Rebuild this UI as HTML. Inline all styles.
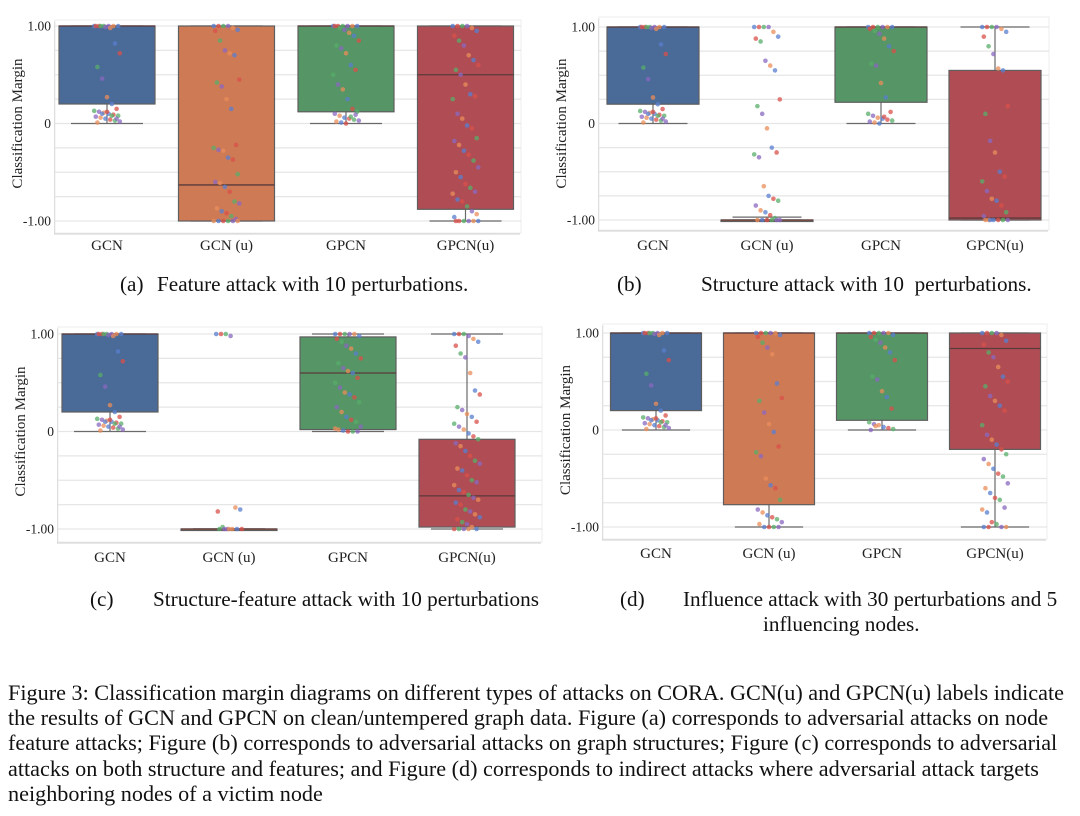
<!DOCTYPE html>
<html><head><meta charset="utf-8">
<style>
html,body{margin:0;padding:0;background:#fff;}
body{width:1080px;height:816px;position:relative;overflow:hidden;font-family:"Liberation Serif",serif;}
svg{position:absolute;left:0;top:0;}
.cap{position:absolute;font-size:21.2px;color:#111;white-space:nowrap;line-height:24px;}
.fl{position:absolute;left:8px;font-size:22.2px;line-height:24px;color:#111;white-space:nowrap;}
</style></head>
<body>
<svg id="chart" width="1080" height="816" xmlns="http://www.w3.org/2000/svg"></svg>
<div class="cap" style="left:120px;top:272px;">(a)</div>
<div class="cap" style="left:157px;top:272px;">Feature attack with 10 perturbations.</div>
<div class="cap" style="left:617px;top:272px;">(b)</div>
<div class="cap" style="left:701px;top:272px;">Structure attack with 10&nbsp; perturbations.</div>
<div class="cap" style="left:90px;top:587px;">(c)</div>
<div class="cap" style="left:153px;top:587px;">Structure-feature attack with 10 perturbations</div>
<div class="cap" style="left:620px;top:587px;">(d)</div>
<div class="cap" style="left:683px;top:587px;">Influence attack with 30 perturbations and 5</div>
<div class="cap" style="left:763px;top:612px;">influencing nodes.</div>
<div>
<div class="fl" style="top:681px;">Figure 3: Classification margin diagrams on different types of attacks on CORA. GCN(u) and GPCN(u) labels indicate</div>
<div class="fl" style="top:706px;">the results of GCN and GPCN on clean/untempered graph data. Figure (a) corresponds to adversarial attacks on node</div>
<div class="fl" style="top:731px;">feature attacks; Figure (b) corresponds to adversarial attacks on graph structures; Figure (c) corresponds to adversarial</div>
<div class="fl" style="top:757px;">attacks on both structure and features; and Figure (d) corresponds to indirect attacks where adversarial attack targets</div>
<div class="fl" style="top:782px;">neighboring nodes of a victim node</div>
</div>
<script>
const categories = ["GCN", "GCN (u)", "GPCN", "GPCN(u)"];
const yTicks = [1, 0, -1];
const yTickLabels = ["1.00", "0", "-1.00"];
// box stats: [whiskerLow, q1, median, q3, whiskerHigh]
const boxesA = [[0,0.2,1,1,1],[-1,-1,-0.63,1,1],[0,0.12,1,1,1],[-1,-0.88,0.5,1,1]];
const boxesB = [[0,0.2,1,1,1],[-1,-1,-1,-1,-0.97],[0,0.22,1,1,1],[-1,-1,-0.98,0.55,1]];
const boxesC = [[0,0.2,1,1,1],[-1,-1,-1,-1,-1],[0,0.02,0.6,0.97,1],[-1,-0.98,-0.66,-0.08,1]];
const boxesD = [[0,0.2,1,1,1],[-1,-0.77,1,1,1],[0,0.1,1,1,1],[-1,-0.2,0.84,1,1]];
const gcnPts = [1,1,1,1,1,1,1,1,0.99,0.98,0.82,0.72,0.58,0.46,0.27,0.2,0.15,0.13,0.12,0.11,0.1,0.09,0.08,0.07,0.06,0.05,0.04,0.03,0.02,0.01,0.1,0.12,0.08,0.05];
const ptsA = [gcnPts,
 [1,1,1,1,0.98,0.96,0.95,0.85,0.75,0.72,0.7,0.45,0.42,0.38,0.25,0.15,-0.22,-0.25,-0.27,-0.28,-0.35,-0.37,-0.52,-0.6,-0.61,-0.65,-0.7,-0.8,-0.82,-0.87,-0.9,-0.92,-0.95,-0.98,-1,-1,-1,-1,-1,-1],
 [1,1,1,1,1,1,1,0.98,0.96,0.93,0.9,0.85,0.8,0.77,0.72,0.6,0.55,0.5,0.4,0.35,0.25,0.15,0.12,0.1,0.08,0.06,0.05,0.04,0.03,0.02,0.01,0,0.07,0.09],
 [1,1,1,1,0.98,0.95,0.9,0.85,0.8,0.7,0.65,0.6,0.55,0.5,0.4,0.3,0.28,0.25,0.1,0.05,-0.02,-0.05,-0.15,-0.18,-0.22,-0.28,-0.32,-0.38,-0.45,-0.5,-0.55,-0.62,-0.66,-0.7,-0.72,-0.78,-0.8,-0.85,-0.9,-0.93,-0.96,-1,-1,-1,-1,-1,-1]];
const ptsB = [gcnPts,
 [1,1,1,1,0.95,0.9,0.88,0.85,0.65,0.6,0.55,0.25,0.18,0.1,-0.05,-0.25,-0.3,-0.32,-0.35,-0.65,-0.75,-0.78,-0.8,-0.85,-0.9,-0.92,-0.95,-0.98,-1,-1,-1,-1,-1,-1],
 [1,1,1,1,1,1,0.98,0.96,0.93,0.88,0.8,0.75,0.62,0.6,0.42,0.27,0.12,0.1,0.08,0.06,0.05,0.04,0.03,0.02,0.01,0,0.07],
 [1,1,1,1,0.98,0.95,0.9,0.8,0.72,0.57,0.55,0.18,0.1,-0.18,-0.3,-0.5,-0.55,-0.6,-0.7,-0.78,-0.8,-0.85,-0.92,-0.96,-1,-1,-1,-1,-1,-1,-1]];
const ptsC = [gcnPts,
 [1,1,1,0.98,-0.78,-0.8,-0.82,-0.98,-1,-1,-1,-1,-1,-1,-1],
 [1,1,1,1,1,0.98,0.95,0.92,0.88,0.85,0.8,0.75,0.7,0.65,0.62,0.6,0.55,0.5,0.45,0.4,0.38,0.35,0.3,0.25,0.2,0.15,0.12,0.1,0.05,0.02,0.01,0,0,0,0.03],
 [1,1,1,0.98,0.95,0.92,0.88,0.8,0.76,0.6,0.42,0.38,0.25,0.22,0.18,0.15,0.1,0.08,0.05,0.02,-0.02,-0.05,-0.08,-0.12,-0.15,-0.2,-0.25,-0.3,-0.33,-0.38,-0.4,-0.45,-0.5,-0.52,-0.55,-0.6,-0.62,-0.65,-0.68,-0.7,-0.73,-0.75,-0.8,-0.82,-0.85,-0.88,-0.9,-0.93,-0.95,-0.98,-1,-1,-1,-1,-1]];
const ptsD = [gcnPts,
 [1,1,1,1,1,0.98,0.96,0.9,0.85,0.78,0.48,0.33,0.3,0.18,0.06,-0.02,-0.17,-0.23,-0.27,-0.5,-0.57,-0.6,-0.72,-0.82,-0.85,-0.88,-0.9,-0.92,-0.95,-0.97,-1,-1,-1,-1],
 [1,1,1,1,1,0.98,0.96,0.93,0.9,0.85,0.8,0.72,0.55,0.52,0.4,0.34,0.22,0.08,0.06,0.05,0.03,0.02,0.01,0,0.04],
 [1,1,1,1,0.98,0.92,0.88,0.8,0.75,0.65,0.55,0.5,0.45,0.35,0.3,0.25,0.2,0.05,-0.05,-0.1,-0.15,-0.2,-0.25,-0.3,-0.35,-0.4,-0.45,-0.48,-0.55,-0.6,-0.65,-0.7,-0.72,-0.8,-0.82,-0.85,-0.95,-0.97,-1,-1,-1,-1]];

const NS = "http://www.w3.org/2000/svg";
const svg = document.getElementById("chart");
const fills = ["#4a6a98","#cd7a55","#559566","#b04d54"];
const dotColors = ["#5a7fcf","#d9504a","#58ad6a","#8a68c0","#e98d5a"];
function mk(tag, attrs, parent){const e=document.createElementNS(NS,tag);for(const k in attrs)e.setAttribute(k,attrs[k]);(parent||svg).appendChild(e);return e;}

const panels = [
 {id:"a", boxes:boxesA, pts:ptsA, fx0:55, fx1:521, fy0:20, fy1:233, yTop:26, yBot:221, cx0:107, step:119.5, bw:96, lab:250},
 {id:"b", boxes:boxesB, pts:ptsB, fx0:599, fx1:1049, fy0:17, fy1:230, yTop:27, yBot:220, cx0:653, step:114, bw:92, lab:250},
 {id:"c", boxes:boxesC, pts:ptsC, fx0:58, fx1:542, fy0:327, fy1:542, yTop:334, yBot:529, cx0:110, step:119, bw:96, lab:562},
 {id:"d", boxes:boxesD, pts:ptsD, fx0:603, fx1:1047, fy0:324, fy1:539, yTop:333, yBot:527, cx0:656, step:113, bw:91, lab:558}
];

panels.forEach(p=>{
  const g = mk("g",{});
  
  
  const y = v => p.yBot + (p.yTop - p.yBot) * (v + 1) / 2;
  const x = i => p.cx0 + i * p.step;
  mk("rect",{x:p.fx0-1,y:p.fy0+1.5,width:p.fx1-p.fx0,height:p.fy1-p.fy0,fill:"#cfcfcf"},g);
  mk("rect",{x:p.fx0,y:p.fy0,width:p.fx1-p.fx0,height:p.fy1-p.fy0,fill:"#fff",stroke:"#ececec"},g);
  for(let v=-1; v<=1.001; v+=0.25){
    const gl = mk("line",{x1:p.fx0,x2:p.fx1,y1:y(v),y2:y(v),stroke:"#e6e6e6","stroke-width":1.2},g);
    
    
  }
  yTicks.forEach((t,i)=>{
    const tx = mk("text",{x:p.fx0-4,y:y(t)+4.5,"text-anchor":"end","font-size":13.5,fill:"#222","font-family":"Liberation Serif, serif"},g);
    tx.textContent = yTickLabels[i];
    
    
  });
  const yt = mk("text",{x:0,y:0,transform:`translate(${p.fx0-33},${(p.yTop+p.yBot)/2}) rotate(-90)`,"text-anchor":"middle","font-size":15,fill:"#222","font-family":"Liberation Serif, serif"},g);
  yt.textContent = "Classification Margin";
  
  
  p.boxes.forEach((b,i)=>{
    const cx = x(i), half = p.bw/2;
    const wl = mk("line",{x1:cx,x2:cx,y1:y(b[4]),y2:y(b[0]),stroke:"#6a6a6a","stroke-width":1.2},g);
    
    
    [b[0],b[4]].forEach(v=>{
      const cap = mk("line",{x1:cx-half*0.75,x2:cx+half*0.75,y1:y(v),y2:y(v),stroke:"#6a6a6a","stroke-width":1.2},g);
      
      
    });
    const r = mk("rect",{x:cx-half,y:y(b[3]),width:p.bw,height:Math.max(1.5,y(b[1])-y(b[3])),fill:fills[i],stroke:"#5e5e5e","stroke-width":1.2},g);
    
    
    const md = mk("line",{x1:cx-half,x2:cx+half,y1:y(b[2]),y2:y(b[2]),stroke:"#5a3a3a","stroke-width":1.3},g);
    
    
    p.pts[i].forEach((v,k)=>{
      const jit = ((k*37)%17 - 8) * 1.6;
      const c = mk("circle",{cx:cx+jit,cy:y(v),r:2.3,fill:dotColors[k%5],opacity:0.75},g);
      
      
    });
    const lb = mk("text",{x:cx,y:p.lab,"text-anchor":"middle","font-size":15,fill:"#222","font-family":"Liberation Serif, serif"},g);
    lb.textContent = categories[i];
    
    
  });
});
</script>
</body></html>
